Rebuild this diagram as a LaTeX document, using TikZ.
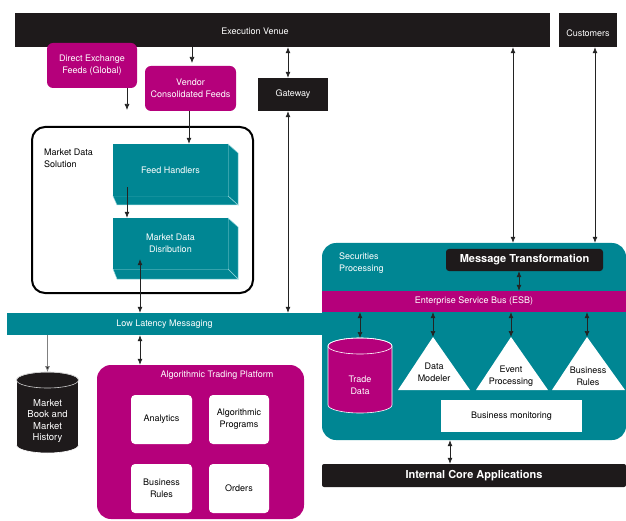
\documentclass[tikz,border=0pt]{standalone}
\usepackage{fontspec}
\setmainfont{TeX Gyre Heros}
\usetikzlibrary{arrows.meta}
\definecolor{tealc}{RGB}{0,134,147}
\definecolor{magc}{RGB}{181,0,123}
\definecolor{blkc}{RGB}{30,26,27}
\definecolor{arrc}{RGB}{35,35,35}
\definecolor{edgec}{RGB}{150,215,220}
\begin{document}
\begin{tikzpicture}[x=1pt,y=-1pt,
  txt/.style={inner sep=0pt, align=center, font=\fontsize{9}{12}\selectfont},
  blackbox/.style={txt, fill=blkc, text=white},
  magbox/.style={txt, fill=magc, text=white, rounded corners=6pt},
  whitebox/.style={txt, fill=white, text=black, rounded corners=4pt},
  tealbox/.style={txt, fill=tealc, text=white},
  boldtxt/.style={font=\fontsize{11}{13}\selectfont\bfseries},
  arw/.style={draw=arrc, line width=0.7pt, -{Latex[length=6pt,width=5pt]}},
  darw/.style={draw=arrc, line width=0.7pt, {Latex[length=6pt,width=5pt]}-{Latex[length=6pt,width=5pt]}},
  extr/.style={fill=tealc, draw=edgec, line width=0.5pt},
  tri/.style={fill=white},
]
\useasboundingbox (0,0) rectangle (626,521);

% top row
\node[blackbox, minimum width=535pt, minimum height=34pt] (ev) at (282.5,30) {};
\node[txt, text=white] (evt) at (255,31.5) {Execution Venue};
\node[blackbox, minimum width=58pt, minimum height=34pt, text depth=0pt] (cu) at (588,30) {};
\node[txt, text=white] (cut) at (588,33) {Customers};
\node[magbox, minimum width=90pt, minimum height=45pt] (def) at (92,65.5) {Direct Exchange\\Feeds (Global)};
\node[magbox, minimum width=91pt, minimum height=45pt] (vcf) at (190.5,88.5) {Vendor\\Consolidated Feeds};
\node[blackbox, minimum width=70pt, minimum height=33pt] (gw) at (293,94.5) {Gateway};

% market data solution
\node[draw=black, line width=2pt, rounded corners=13pt, minimum width=221pt, minimum height=166pt] (mds) at (142.5,210) {};
\node[txt, align=left, anchor=north west] (mdsl) at (44,148.5) {Market Data\\Solution};

\fill[extr] (228,144) -- (238,153) -- (238,205) -- (228,196) -- cycle;
\fill[extr] (113,196) -- (228,196) -- (238,205) -- (117,205) -- cycle;
\node[tealbox, minimum width=115pt, minimum height=52pt] (fh) at (170.5,170) {Feed Handlers};
\fill[extr] (228,218) -- (238,227) -- (238,279) -- (228,269) -- cycle;
\fill[extr] (113,269) -- (228,269) -- (238,279) -- (117,279) -- cycle;
\node[tealbox, minimum width=115pt, minimum height=51pt] (mdd) at (170.5,243.5) {Market Data\\Disribution};

% securities processing
\node[tealbox, rounded corners=14pt, minimum width=304pt, minimum height=197pt] (sp) at (474,341.5) {};
\node[txt, text=white, align=left, anchor=north west] (spl) at (339,252.5) {Securities\\Processing};
\node[tealbox, minimum width=315pt, minimum height=22pt] (llm) at (164.5,324) {Low Latency Messaging};
\node[txt, fill=magc, text=white, minimum width=304pt, minimum height=21pt] (esb) at (474,301.5) {Enterprise Service Bus (ESB)};
\node[blackbox, boldtxt, rounded corners=3pt, minimum width=157pt, minimum height=22pt] (mt) at (524.5,260) {Message Transformation};

% trade data cylinder
\filldraw[fill=magc, draw=white, line width=0.6pt] (328,346) -- (328,405) arc[start angle=180, end angle=360, x radius=32pt, y radius=8pt] -- (392,346) arc[start angle=0, end angle=180, x radius=32pt, y radius=8pt] -- cycle;
\draw[white, line width=0.6pt] (360,346) ellipse[x radius=32pt, y radius=8pt];
\coordinate (tdtop) at (360,338);
\node[txt, text=white] (td) at (360,385) {Trade\\Data};

% triangles
\fill[tri] (433,337) -- (470,390) -- (398,390) -- cycle;
\fill[tri] (511,337) -- (548,390) -- (476,390) -- cycle;
\fill[tri] (587,337) -- (625,390) -- (552,390) -- cycle;
\coordinate (dmtop) at (433,337);
\coordinate (eptop) at (511,337);
\coordinate (brtop) at (587,337);
\node[txt] (dm) at (434,372) {Data\\Modeler};
\node[txt] (ep) at (511,376) {Event\\Processing};
\node[txt] (br) at (588,376) {Business\\Rules};

\node[txt, fill=white, minimum width=141pt, minimum height=32pt] (bm) at (511.5,416) {Business monitoring};
\node[blackbox, boldtxt, rounded corners=2pt, minimum width=304pt, minimum height=23pt] (ica) at (474,475.5) {Internal Core Applications};

% market book cylinder
\filldraw[fill=blkc, draw=white, line width=0.6pt] (16.5,380) -- (16.5,445) arc[start angle=180, end angle=360, x radius=31pt, y radius=8pt] -- (78.5,380) arc[start angle=0, end angle=180, x radius=31pt, y radius=8pt] -- cycle;
\draw[white!80!black, line width=0.6pt] (47.5,380) ellipse[x radius=31pt, y radius=8pt];
\coordinate (mbtop) at (47.5,372);
\node[txt, text=white, font=\fontsize{9.5}{11.6}\selectfont] (mb) at (47.5,421) {Market\\Book and\\Market\\History};

% algorithmic trading platform
\node[txt, fill=magc, rounded corners=14pt, minimum width=207pt, minimum height=154pt] (atp) at (200.5,442) {};
\node[txt, text=white] (atpl) at (217,375.5) {Algorithmic Trading Platform};
\node[whitebox, minimum width=61pt, minimum height=49pt] (an) at (161.5,419.5) {Analytics};
\node[whitebox, minimum width=60pt, minimum height=49pt] (ap) at (239,419.5) {Algorithmic\\Programs};
\node[whitebox, minimum width=61pt, minimum height=49pt] (abr) at (161.5,488.5) {Business\\Rules};
\node[whitebox, minimum width=60pt, minimum height=49pt] (or) at (239,488.5) {Orders};

% arrows
\coordinate (a1) at (192,63);
\coordinate (a2) at (127,110);
\coordinate (x189) at (189,0);
\coordinate (x288) at (288,0);
\coordinate (x127) at (127,0);
\coordinate (x140) at (140,0);
\coordinate (x513) at (513,0);
\coordinate (x595) at (595,0);
\coordinate (x519) at (519,0);
\coordinate (x450) at (450,0);
\coordinate (x47) at (47.5,0);
\draw[arw] (ev.south -| a1) -- (a1);
\draw[arw] (def.south -| a2) -- (a2);
\draw[arw] (vcf.south -| x189) -- (fh.north -| x189);
\draw[darw] (ev.south -| x288) -- (gw.north -| x288);
\draw[darw] (gw.south -| x288) -- (llm.north -| x288);
\draw[arw] ([yshift=9pt]fh.south -| x127) -- (mdd.north -| x127);
\draw[darw] ([yshift=10pt]mdd.south -| x140) -- (llm.north -| x140);
\draw[darw] (ev.south -| x513) -- (sp.north -| x513);
\draw[darw] (cu.south -| x595) -- (sp.north -| x595);
\draw[darw] (mt.south -| x519) -- (esb.north -| x519);
\draw[darw] (esb.south -| tdtop) -- (tdtop);
\draw[darw] (esb.south -| dmtop) -- (dmtop);
\draw[darw] (esb.south -| eptop) -- (eptop);
\draw[darw] (esb.south -| brtop) -- (brtop);
\draw[darw] (sp.south -| x450) -- (ica.north -| x450);
\draw[draw=gray, line width=0.7pt, -{Latex[length=6pt,width=5pt,fill=arrc]}] (llm.south -| x47) -- (mbtop);
\draw[darw] (llm.south -| x140) -- (atp.north -| x140);
\end{tikzpicture}
\end{document}
